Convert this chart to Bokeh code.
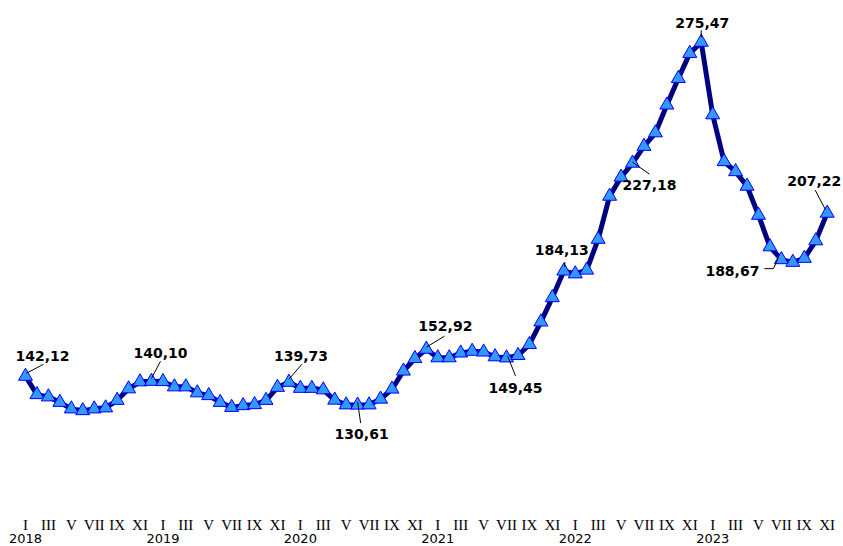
import numpy as np
from bokeh.plotting import figure
from bokeh.models import Range1d, FixedTicker, LinearAxis, ColumnDataSource
from bokeh.embed import file_html
from bokeh.resources import INLINE
from bokeh.core.properties import value

# ---------------- data ----------------
years = [2018, 2019, 2020, 2021, 2022, 2023]
month_ticks = ["I", "III", "V", "VII", "IX", "XI"]

v2018 = [142.12, 134.8, 133.9, 131.7, 129.1, 128.4, 129.1, 129.5, 132.5, 137.1, 139.9, 140.10]
v2019 = [140.0, 137.9, 137.9, 135.5, 134.4, 131.7, 129.7, 130.4, 130.8, 132.5, 137.7, 139.73]
v2020 = [137.3, 137.3, 136.7, 132.6, 130.7, 130.61, 130.7, 133.0, 137.0, 144.2, 149.2, 152.92]
v2021 = [149.5, 149.5, 151.4, 152.1, 151.8, 149.9, 149.45, 150.4, 154.8, 163.8, 173.5, 184.13]
v2022 = [183.0, 184.5, 196.8, 214.0, 221.6, 227.18, 233.9, 239.3, 250.4, 261.0, 271.0, 275.47]
v2023 = [246.5, 227.8, 223.8, 218.0, 206.4, 193.8, 188.67, 187.6, 189.2, 196.2, 207.22]

values = v2018 + v2019 + v2020 + v2021 + v2022 + v2023
month_index = list(range(len(values)))

# indices of labelled points
labelled = [0, 11, 23, 29, 35, 42, 47, 53, 59, 66, 70]

# ---------------- styling (pixel offsets) ----------------
label_dx = [17, 9, 12, 4, 19, 9, -2, 17, 1, -49, -13]
label_dy = [-20, -28, -26, 29, -23, 30, -21, 22, -19, 11, -32]
leader_px = [
    [(1, -3), (18, -12)],
    [(0, -3), (9, -20)],
    [(0, -3), (13, -18)],
    [(0, -3), (3, 18)],
    [(0, -2), (18, -13)],
    [(1, -2), (9, 18)],
    [(1, -4), (1, -9)],
    [(0, -1), (17, 11)],
    [(0, -5), (0, -12)],
    [(-3, -2), (-8, 9), (-17, 9)],
    [(-2, -4), (-12, -23)],
]

FW, FH = 843, 507
px_per_month = 11.453
px_per_unit = 2.505
x0 = -25 / px_per_month
x1 = x0 + FW / px_per_month
y1 = 275.47 + 41.7 / px_per_unit
y0 = y1 - FH / px_per_unit
xs = FW / (x1 - x0)
ys = FH / (y1 - y0)

p = figure(frame_width=FW, frame_height=FH,
           min_border_left=0, min_border_right=0, min_border_top=0, min_border_bottom=0,
           x_range=Range1d(x0, x1), y_range=Range1d(y0, y1),
           output_backend="svg", toolbar_location=None,
           x_axis_location=None, y_axis_location=None)
p.outline_line_color = None
p.xgrid.visible = False
p.ygrid.visible = False
p.background_fill_color = "white"
p.border_fill_color = "white"

# month axis
month_tick_vals = [i for i in month_index if i % 2 == 0]
ax1 = LinearAxis(ticker=FixedTicker(ticks=month_tick_vals, minor_ticks=[]),
                 major_label_overrides={i: month_ticks[(i % 12) // 2] for i in month_tick_vals})
ax1.axis_line_color = None
ax1.major_tick_line_color = None
ax1.minor_tick_line_color = None
ax1.major_tick_out = 0
ax1.major_tick_in = 0
ax1.major_label_standoff = 9
ax1.major_label_text_font = "Liberation Serif"
ax1.major_label_text_font_size = "15px"
ax1.major_label_text_color = "black"
p.add_layout(ax1, "below")

# year axis
year_tick_vals = [12 * i for i in range(len(years))]
ax2 = LinearAxis(ticker=FixedTicker(ticks=year_tick_vals, minor_ticks=[]),
                 major_label_overrides={12 * i: str(y) for i, y in enumerate(years)})
ax2.axis_line_color = None
ax2.major_tick_line_color = None
ax2.minor_tick_line_color = None
ax2.major_tick_out = 0
ax2.major_tick_in = 0
ax2.major_label_standoff = -2
ax2.major_label_text_font = "DejaVu Sans"
ax2.major_label_text_font_size = "13px"
ax2.major_label_text_color = "black"
p.add_layout(ax2, "below")

src = ColumnDataSource(data=dict(x=month_index, y=values))
p.line("x", "y", source=src, line_color="#000080", line_width=5, line_join="round")
p.scatter("x", "y", source=src, marker="triangle", size=14,
          fill_color="#3399FF", line_color="#0000FF", line_width=1)

# leaders
lx, ly = [], []
for k, offs in zip(labelled, leader_px):
    lx.append([month_index[k] + dx / xs for dx, dy in offs])
    ly.append([values[k] - dy / ys for dx, dy in offs])
p.multi_line(lx, ly, line_color="black", line_width=1)

# labels
lab = ColumnDataSource(data=dict(
    x=[month_index[k] for k in labelled],
    y=[values[k] for k in labelled],
    t=[f"{values[k]:.2f}".replace(".", ",") for k in labelled],
    dx=label_dx, dy=label_dy))
p.text("x", "y", text="t", source=lab, x_offset="dx", y_offset="dy",
       text_font=value("DejaVu Sans"), text_font_style="bold", text_font_size="14px",
       text_align="center", text_baseline="middle", text_color="black")

open("out.html", "w").write(file_html(p, INLINE))
